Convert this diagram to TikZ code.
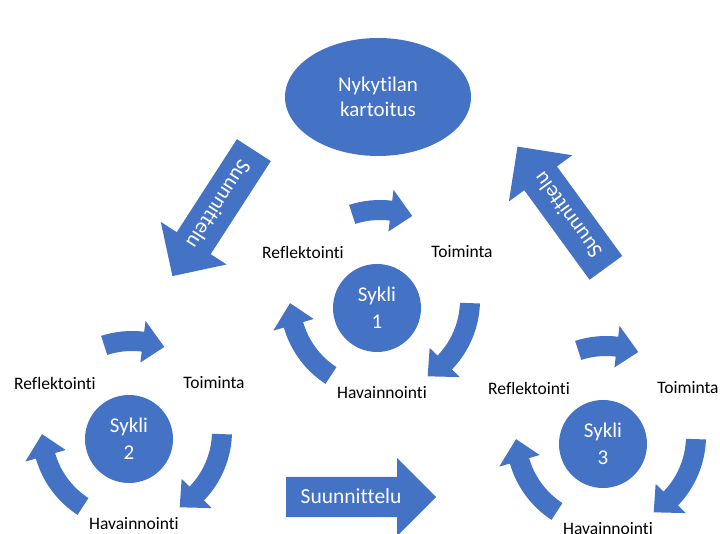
\documentclass[tikz,border=0pt]{standalone}
\usepackage{fontspec}
\setmainfont{Carlito}[RawFeature={-liga,-clig,-calt,-dlig}]
\usetikzlibrary{shapes.geometric,shapes.arrows,calc}

\definecolor{sininen}{HTML}{4472C4}

\tikzset{
  kartta/.style={ellipse, fill=sininen, text=white, minimum width=186pt,
    minimum height=118pt, align=center, font=\fontsize{21}{25}\selectfont},
  syklipallo/.style={circle, fill=sininen, text=white, minimum size=88pt,
    align=center, font=\fontsize{21}{27}\selectfont},
  vaihe/.style={font=\fontsize{17.5}{20}\selectfont},
  suunnittelu/.style={single arrow, fill=sininen, text=white,
    font=\fontsize{21.5}{24}\selectfont, text height=15pt, text depth=1pt,
    inner ysep=12pt, single arrow head extend=19pt, minimum height=150pt,
    anchor=tail},
  kaari/.style={fill=sininen}
}

% kaareva nuoli syklin ympari: keskipiste, alkukulma, loppukulma
\newcommand{\Kaari}[3]{%
  \fill[kaari] ($(#1)+(#2:100)$) arc[start angle=#2, end angle=#3+14, radius=100]
    -- ($(#1)+(#3+14:111)$) -- ($(#1)+(#3:90)$) -- ($(#1)+(#3+14:69)$)
    -- ($(#1)+(#3+14:80)$) arc[start angle=#3+14, end angle=#2, radius=80] -- cycle;}

\begin{document}
\begin{tikzpicture}[x=1pt,y=1pt]
    \useasboundingbox (0,0) rectangle (720,534);
    \node[kartta] (kartoitus) at (378,437) {Nykytilan\\kartoitus};

    \coordinate (c1) at (380,234);
    \coordinate (c2) at (132,103);
    \coordinate (c3) at (606,98);

    % sykli 1
    \node[syklipallo] (sykli1) at ($(c1)+(-3,-8)$) {Sykli\\1};
    \node[vaihe] (refl1) at ($(c1)+(-77,48)$) {Reflektointi};
    \node[vaihe] (toim1) at ($(c1)+(82,48)$) {Toiminta};
    \node[vaihe] (hav1) at ($(c1)+(2,-93)$) {Havainnointi};
    \Kaari{c1}{108}{69}
    \Kaari{c1}{-2}{-58}
    \Kaari{c1}{237}{182}

    % sykli 2
    \node[syklipallo] (sykli2) at ($(c2)+(-3,-8)$) {Sykli\\2};
    \node[vaihe] (refl2) at ($(c2)+(-77,48)$) {Reflektointi};
    \node[vaihe] (toim2) at ($(c2)+(82,48)$) {Toiminta};
    \node[vaihe] (hav2) at ($(c2)+(2,-93)$) {Havainnointi};
    \Kaari{c2}{108}{69}
    \Kaari{c2}{-2}{-58}
    \Kaari{c2}{237}{182}

    % sykli 3
    \node[syklipallo] (sykli3) at ($(c3)+(-3,-8)$) {Sykli\\3};
    \node[vaihe] (refl3) at ($(c3)+(-77,48)$) {Reflektointi};
    \node[vaihe] (toim3) at ($(c3)+(82,48)$) {Toiminta};
    \node[vaihe] (hav3) at ($(c3)+(2,-93)$) {Havainnointi};
    \Kaari{c3}{108}{69}
    \Kaari{c3}{-2}{-58}
    \Kaari{c3}{237}{182}

    % suunnittelunuolet
    \node[suunnittelu, rotate=-122.9] (suun1) at (254,384) {Suunnittelu};
    \node[suunnittelu, rotate=126.1] (suun2) at (606,266) {Suunnittelu};
    \node[suunnittelu] (suun3) at (286,37) {Suunnittelu};
\end{tikzpicture}
\end{document}
